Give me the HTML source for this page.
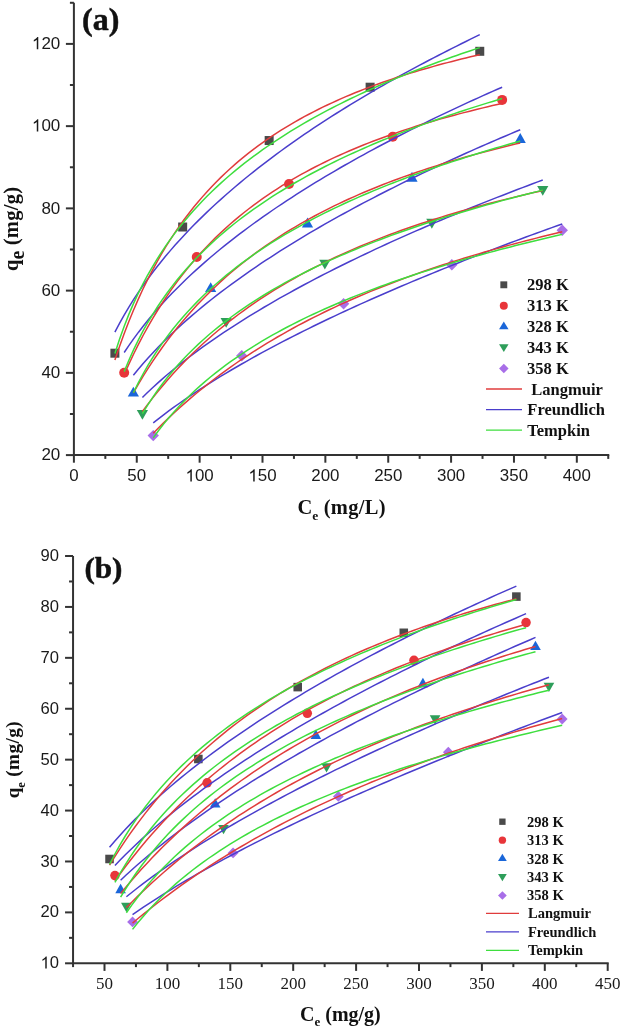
<!DOCTYPE html>
<html><head><meta charset="utf-8"><style>
html,body{margin:0;padding:0;background:#fff;}
body{width:626px;height:1033px;overflow:hidden;font-family:"Liberation Sans",sans-serif;}
svg{display:block;filter:blur(0.3px);}
</style></head><body>
<svg width="626" height="1033" viewBox="0 0 626 1033">
<rect width="626" height="1033" fill="#fff"/>
<line x1="73.90" y1="2.78" x2="73.90" y2="456.10" stroke="#333333" stroke-width="2"/>
<line x1="72.90" y1="455.10" x2="609.25" y2="455.10" stroke="#333333" stroke-width="2"/>
<line x1="73.90" y1="455.10" x2="73.90" y2="462.70" stroke="#333333" stroke-width="2"/>
<line x1="136.77" y1="455.10" x2="136.77" y2="462.70" stroke="#333333" stroke-width="2"/>
<line x1="199.63" y1="455.10" x2="199.63" y2="462.70" stroke="#333333" stroke-width="2"/>
<line x1="262.50" y1="455.10" x2="262.50" y2="462.70" stroke="#333333" stroke-width="2"/>
<line x1="325.36" y1="455.10" x2="325.36" y2="462.70" stroke="#333333" stroke-width="2"/>
<line x1="388.23" y1="455.10" x2="388.23" y2="462.70" stroke="#333333" stroke-width="2"/>
<line x1="451.09" y1="455.10" x2="451.09" y2="462.70" stroke="#333333" stroke-width="2"/>
<line x1="513.96" y1="455.10" x2="513.96" y2="462.70" stroke="#333333" stroke-width="2"/>
<line x1="576.82" y1="455.10" x2="576.82" y2="462.70" stroke="#333333" stroke-width="2"/>
<line x1="105.33" y1="455.10" x2="105.33" y2="458.90" stroke="#333333" stroke-width="2"/>
<line x1="168.20" y1="455.10" x2="168.20" y2="458.90" stroke="#333333" stroke-width="2"/>
<line x1="231.06" y1="455.10" x2="231.06" y2="458.90" stroke="#333333" stroke-width="2"/>
<line x1="293.93" y1="455.10" x2="293.93" y2="458.90" stroke="#333333" stroke-width="2"/>
<line x1="356.79" y1="455.10" x2="356.79" y2="458.90" stroke="#333333" stroke-width="2"/>
<line x1="419.66" y1="455.10" x2="419.66" y2="458.90" stroke="#333333" stroke-width="2"/>
<line x1="482.52" y1="455.10" x2="482.52" y2="458.90" stroke="#333333" stroke-width="2"/>
<line x1="545.39" y1="455.10" x2="545.39" y2="458.90" stroke="#333333" stroke-width="2"/>
<line x1="608.25" y1="455.10" x2="608.25" y2="458.90" stroke="#333333" stroke-width="2"/>
<line x1="65.90" y1="455.10" x2="73.90" y2="455.10" stroke="#333333" stroke-width="2"/>
<line x1="65.90" y1="372.86" x2="73.90" y2="372.86" stroke="#333333" stroke-width="2"/>
<line x1="65.90" y1="290.62" x2="73.90" y2="290.62" stroke="#333333" stroke-width="2"/>
<line x1="65.90" y1="208.38" x2="73.90" y2="208.38" stroke="#333333" stroke-width="2"/>
<line x1="65.90" y1="126.14" x2="73.90" y2="126.14" stroke="#333333" stroke-width="2"/>
<line x1="65.90" y1="43.90" x2="73.90" y2="43.90" stroke="#333333" stroke-width="2"/>
<line x1="69.90" y1="413.98" x2="73.90" y2="413.98" stroke="#333333" stroke-width="2"/>
<line x1="69.90" y1="331.74" x2="73.90" y2="331.74" stroke="#333333" stroke-width="2"/>
<line x1="69.90" y1="249.50" x2="73.90" y2="249.50" stroke="#333333" stroke-width="2"/>
<line x1="69.90" y1="167.26" x2="73.90" y2="167.26" stroke="#333333" stroke-width="2"/>
<line x1="69.90" y1="85.02" x2="73.90" y2="85.02" stroke="#333333" stroke-width="2"/>
<line x1="69.90" y1="2.78" x2="73.90" y2="2.78" stroke="#333333" stroke-width="2"/>
<text x="69.20" y="481.40" font-family="Liberation Sans" font-size="16.9" fill="#1a1a1a">0</text>
<text x="127.37" y="481.40" font-family="Liberation Sans" font-size="16.9" fill="#1a1a1a">50</text>
<path transform="translate(185.53,481.40) scale(0.00825,-0.00825)" d="M763 0H583V1147Q518 1085 412.5 1023Q307 961 223 930V1104Q374 1175 487 1276Q600 1377 647 1472H763Z" fill="#1a1a1a"/><text x="194.93" y="481.40" font-family="Liberation Sans" font-size="16.9" fill="#1a1a1a">00</text>
<path transform="translate(248.40,481.40) scale(0.00825,-0.00825)" d="M763 0H583V1147Q518 1085 412.5 1023Q307 961 223 930V1104Q374 1175 487 1276Q600 1377 647 1472H763Z" fill="#1a1a1a"/><text x="257.80" y="481.40" font-family="Liberation Sans" font-size="16.9" fill="#1a1a1a">50</text>
<text x="311.26" y="481.40" font-family="Liberation Sans" font-size="16.9" fill="#1a1a1a">200</text>
<text x="374.13" y="481.40" font-family="Liberation Sans" font-size="16.9" fill="#1a1a1a">250</text>
<text x="436.99" y="481.40" font-family="Liberation Sans" font-size="16.9" fill="#1a1a1a">300</text>
<text x="499.86" y="481.40" font-family="Liberation Sans" font-size="16.9" fill="#1a1a1a">350</text>
<text x="562.72" y="481.40" font-family="Liberation Sans" font-size="16.9" fill="#1a1a1a">400</text>
<text x="41.39" y="460.40" font-family="Liberation Sans" font-size="17" fill="#1a1a1a">20</text>
<text x="41.39" y="378.16" font-family="Liberation Sans" font-size="17" fill="#1a1a1a">40</text>
<text x="41.39" y="295.92" font-family="Liberation Sans" font-size="17" fill="#1a1a1a">60</text>
<text x="41.39" y="213.68" font-family="Liberation Sans" font-size="17" fill="#1a1a1a">80</text>
<path transform="translate(31.94,131.44) scale(0.00830,-0.00830)" d="M763 0H583V1147Q518 1085 412.5 1023Q307 961 223 930V1104Q374 1175 487 1276Q600 1377 647 1472H763Z" fill="#1a1a1a"/><text x="41.39" y="131.44" font-family="Liberation Sans" font-size="17" fill="#1a1a1a">00</text>
<path transform="translate(31.94,49.20) scale(0.00830,-0.00830)" d="M763 0H583V1147Q518 1085 412.5 1023Q307 961 223 930V1104Q374 1175 487 1276Q600 1377 647 1472H763Z" fill="#1a1a1a"/><text x="41.39" y="49.20" font-family="Liberation Sans" font-size="17" fill="#1a1a1a">20</text>
<rect x="110.39" y="348.70" width="9.00" height="9.00" fill="#4a4a4a"/>
<rect x="178.16" y="222.51" width="9.00" height="9.00" fill="#4a4a4a"/>
<rect x="264.66" y="136.03" width="9.00" height="9.00" fill="#4a4a4a"/>
<rect x="365.62" y="82.70" width="9.00" height="9.00" fill="#4a4a4a"/>
<rect x="475.26" y="46.80" width="9.00" height="9.00" fill="#4a4a4a"/>
<circle cx="124.19" cy="372.70" r="5.00" fill="#e8353a"/>
<circle cx="196.74" cy="256.98" r="5.00" fill="#e8353a"/>
<circle cx="289.02" cy="184.00" r="5.00" fill="#e8353a"/>
<circle cx="392.75" cy="136.71" r="5.00" fill="#e8353a"/>
<circle cx="502.14" cy="99.91" r="5.00" fill="#e8353a"/>
<polygon points="133.37,386.80 138.97,396.60 127.77,396.60" fill="#1a66d9"/>
<polygon points="210.69,282.27 216.29,292.07 205.09,292.07" fill="#1a66d9"/>
<polygon points="307.51,217.59 313.11,227.39 301.91,227.39" fill="#1a66d9"/>
<polygon points="411.99,171.86 417.59,181.66 406.39,181.66" fill="#1a66d9"/>
<polygon points="520.24,133.09 525.84,142.89 514.64,142.89" fill="#1a66d9"/>
<polygon points="136.82,409.93 148.02,409.93 142.42,419.73" fill="#2e9e5a"/>
<polygon points="220.56,317.95 231.76,317.95 226.16,327.75" fill="#2e9e5a"/>
<polygon points="319.26,259.64 330.46,259.64 324.86,269.44" fill="#2e9e5a"/>
<polygon points="426.25,218.85 437.45,218.85 431.85,228.65" fill="#2e9e5a"/>
<polygon points="537.15,186.03 548.35,186.03 542.75,195.83" fill="#2e9e5a"/>
<polygon points="153.24,429.91 158.94,435.61 153.24,441.31 147.54,435.61" fill="#a86ee8"/>
<polygon points="241.75,350.01 247.45,355.71 241.75,361.41 236.05,355.71" fill="#a86ee8"/>
<polygon points="343.59,298.12 349.29,303.82 343.59,309.52 337.89,303.82" fill="#a86ee8"/>
<polygon points="451.84,259.01 457.54,264.71 451.84,270.41 446.14,264.71" fill="#a86ee8"/>
<polygon points="562.24,224.51 567.94,230.21 562.24,235.91 556.54,230.21" fill="#a86ee8"/>
<path d="M114.89,332.05 L119.51,323.31 L124.13,315.09 L128.74,307.32 L133.36,299.95 L137.98,292.91 L142.60,286.17 L147.22,279.71 L151.84,273.49 L156.46,267.49 L161.07,261.69 L165.69,256.07 L170.31,250.63 L174.93,245.34 L179.55,240.20 L184.17,235.19 L188.79,230.31 L193.40,225.55 L198.02,220.89 L202.64,216.35 L207.26,211.90 L211.88,207.54 L216.50,203.27 L221.12,199.09 L225.73,194.98 L230.35,190.95 L234.97,186.99 L239.59,183.10 L244.21,179.28 L248.83,175.52 L253.45,171.82 L258.06,168.17 L262.68,164.58 L267.30,161.05 L271.92,157.56 L276.54,154.13 L281.16,150.74 L285.78,147.40 L290.39,144.10 L295.01,140.84 L299.63,137.63 L304.25,134.45 L308.87,131.32 L313.49,128.22 L318.11,125.16 L322.72,122.13 L327.34,119.14 L331.96,116.18 L336.58,113.25 L341.20,110.35 L345.82,107.49 L350.44,104.65 L355.05,101.84 L359.67,99.06 L364.29,96.31 L368.91,93.58 L373.53,90.88 L378.15,88.21 L382.77,85.55 L387.38,82.93 L392.00,80.32 L396.62,77.74 L401.24,75.19 L405.86,72.65 L410.48,70.14 L415.10,67.64 L419.71,65.17 L424.33,62.72 L428.95,60.28 L433.57,57.87 L438.19,55.47 L442.81,53.10 L447.43,50.74 L452.04,48.40 L456.66,46.07 L461.28,43.77 L465.90,41.48 L470.52,39.20 L475.14,36.95 L479.76,34.70" fill="none" stroke="#4a3ecc" stroke-width="1.5"/>
<path d="M124.19,352.50 L128.98,345.39 L133.76,338.63 L138.54,332.17 L143.33,326.00 L148.11,320.06 L152.90,314.35 L157.68,308.83 L162.46,303.50 L167.25,298.33 L172.03,293.31 L176.82,288.44 L181.60,283.69 L186.39,279.07 L191.17,274.56 L195.95,270.16 L200.74,265.86 L205.52,261.65 L210.31,257.53 L215.09,253.49 L219.87,249.53 L224.66,245.65 L229.44,241.84 L234.23,238.09 L239.01,234.41 L243.79,230.80 L248.58,227.24 L253.36,223.74 L258.15,220.29 L262.93,216.89 L267.72,213.55 L272.50,210.25 L277.28,207.00 L282.07,203.79 L286.85,200.63 L291.64,197.51 L296.42,194.42 L301.20,191.38 L305.99,188.37 L310.77,185.40 L315.56,182.46 L320.34,179.56 L325.12,176.69 L329.91,173.85 L334.69,171.04 L339.48,168.27 L344.26,165.52 L349.04,162.80 L353.83,160.10 L358.61,157.44 L363.40,154.80 L368.18,152.18 L372.97,149.59 L377.75,147.03 L382.53,144.49 L387.32,141.97 L392.10,139.47 L396.89,137.00 L401.67,134.54 L406.45,132.11 L411.24,129.70 L416.02,127.30 L420.81,124.93 L425.59,122.58 L430.37,120.24 L435.16,117.93 L439.94,115.63 L444.73,113.34 L449.51,111.08 L454.30,108.83 L459.08,106.60 L463.86,104.39 L468.65,102.19 L473.43,100.00 L478.22,97.83 L483.00,95.68 L487.78,93.54 L492.57,91.42 L497.35,89.31 L502.14,87.21" fill="none" stroke="#4a3ecc" stroke-width="1.5"/>
<path d="M133.37,375.29 L138.27,369.31 L143.16,363.58 L148.06,358.06 L152.96,352.74 L157.86,347.59 L162.75,342.60 L167.65,337.76 L172.55,333.06 L177.44,328.48 L182.34,324.02 L187.24,319.66 L192.14,315.41 L197.03,311.24 L201.93,307.17 L206.83,303.19 L211.72,299.28 L216.62,295.44 L221.52,291.68 L226.42,287.98 L231.31,284.35 L236.21,280.78 L241.11,277.27 L246.00,273.81 L250.90,270.40 L255.80,267.05 L260.69,263.74 L265.59,260.48 L270.49,257.27 L275.39,254.10 L280.28,250.97 L285.18,247.88 L290.08,244.83 L294.97,241.81 L299.87,238.83 L304.77,235.89 L309.67,232.98 L314.56,230.10 L319.46,227.26 L324.36,224.44 L329.25,221.66 L334.15,218.90 L339.05,216.18 L343.95,213.47 L348.84,210.80 L353.74,208.15 L358.64,205.53 L363.53,202.93 L368.43,200.35 L373.33,197.80 L378.23,195.27 L383.12,192.76 L388.02,190.27 L392.92,187.81 L397.81,185.36 L402.71,182.94 L407.61,180.53 L412.51,178.15 L417.40,175.78 L422.30,173.43 L427.20,171.10 L432.09,168.78 L436.99,166.49 L441.89,164.20 L446.78,161.94 L451.68,159.69 L456.58,157.46 L461.48,155.24 L466.37,153.04 L471.27,150.85 L476.17,148.68 L481.06,146.52 L485.96,144.38 L490.86,142.25 L495.76,140.13 L500.65,138.03 L505.55,135.94 L510.45,133.86 L515.34,131.80 L520.24,129.74" fill="none" stroke="#4a3ecc" stroke-width="1.5"/>
<path d="M142.42,397.49 L147.49,392.53 L152.56,387.75 L157.63,383.13 L162.69,378.64 L167.76,374.29 L172.83,370.05 L177.89,365.93 L182.96,361.90 L188.03,357.97 L193.10,354.13 L198.16,350.37 L203.23,346.69 L208.30,343.08 L213.37,339.54 L218.43,336.07 L223.50,332.66 L228.57,329.30 L233.64,326.01 L238.70,322.76 L243.77,319.57 L248.84,316.43 L253.91,313.33 L258.97,310.27 L264.04,307.26 L269.11,304.29 L274.18,301.36 L279.24,298.47 L284.31,295.61 L289.38,292.79 L294.44,290.00 L299.51,287.24 L304.58,284.52 L309.65,281.82 L314.71,279.16 L319.78,276.52 L324.85,273.91 L329.92,271.33 L334.98,268.78 L340.05,266.25 L345.12,263.74 L350.19,261.26 L355.25,258.80 L360.32,256.37 L365.39,253.95 L370.46,251.56 L375.52,249.19 L380.59,246.84 L385.66,244.51 L390.73,242.19 L395.79,239.90 L400.86,237.62 L405.93,235.37 L410.99,233.13 L416.06,230.91 L421.13,228.70 L426.20,226.51 L431.26,224.34 L436.33,222.18 L441.40,220.04 L446.47,217.91 L451.53,215.80 L456.60,213.70 L461.67,211.62 L466.74,209.55 L471.80,207.50 L476.87,205.45 L481.94,203.42 L487.01,201.41 L492.07,199.40 L497.14,197.41 L502.21,195.43 L507.28,193.47 L512.34,191.51 L517.41,189.57 L522.48,187.64 L527.54,185.71 L532.61,183.80 L537.68,181.90 L542.75,180.01" fill="none" stroke="#4a3ecc" stroke-width="1.5"/>
<path d="M153.24,422.89 L158.41,418.81 L163.59,414.83 L168.77,410.96 L173.94,407.19 L179.12,403.49 L184.30,399.88 L189.48,396.35 L194.65,392.88 L199.83,389.48 L205.01,386.14 L210.18,382.86 L215.36,379.63 L220.54,376.46 L225.72,373.33 L230.89,370.26 L236.07,367.23 L241.25,364.24 L246.43,361.29 L251.60,358.38 L256.78,355.51 L261.96,352.67 L267.13,349.87 L272.31,347.10 L277.49,344.37 L282.67,341.66 L287.84,338.99 L293.02,336.34 L298.20,333.72 L303.37,331.13 L308.55,328.56 L313.73,326.02 L318.91,323.51 L324.08,321.01 L329.26,318.54 L334.44,316.09 L339.62,313.67 L344.79,311.26 L349.97,308.88 L355.15,306.51 L360.32,304.17 L365.50,301.84 L370.68,299.53 L375.86,297.24 L381.03,294.97 L386.21,292.71 L391.39,290.47 L396.56,288.25 L401.74,286.04 L406.92,283.85 L412.10,281.67 L417.27,279.51 L422.45,277.36 L427.63,275.23 L432.81,273.11 L437.98,271.00 L443.16,268.91 L448.34,266.83 L453.51,264.76 L458.69,262.71 L463.87,260.67 L469.05,258.64 L474.22,256.62 L479.40,254.61 L484.58,252.62 L489.75,250.63 L494.93,248.66 L500.11,246.70 L505.29,244.75 L510.46,242.80 L515.64,240.87 L520.82,238.95 L525.99,237.04 L531.17,235.14 L536.35,233.25 L541.53,231.37 L546.70,229.49 L551.88,227.63 L557.06,225.77 L562.24,223.93" fill="none" stroke="#4a3ecc" stroke-width="1.5"/>
<path d="M114.89,360.08 L119.51,346.48 L124.13,333.73 L128.74,321.75 L133.36,310.47 L137.98,299.84 L142.60,289.80 L147.22,280.31 L151.84,271.31 L156.46,262.78 L161.07,254.67 L165.69,246.96 L170.31,239.62 L174.93,232.62 L179.55,225.94 L184.17,219.55 L188.79,213.44 L193.40,207.59 L198.02,201.99 L202.64,196.62 L207.26,191.46 L211.88,186.50 L216.50,181.73 L221.12,177.14 L225.73,172.73 L230.35,168.47 L234.97,164.37 L239.59,160.41 L244.21,156.58 L248.83,152.89 L253.45,149.32 L258.06,145.87 L262.68,142.53 L267.30,139.29 L271.92,136.16 L276.54,133.12 L281.16,130.17 L285.78,127.31 L290.39,124.54 L295.01,121.85 L299.63,119.23 L304.25,116.69 L308.87,114.22 L313.49,111.81 L318.11,109.47 L322.72,107.20 L327.34,104.98 L331.96,102.82 L336.58,100.72 L341.20,98.67 L345.82,96.67 L350.44,94.72 L355.05,92.81 L359.67,90.96 L364.29,89.15 L368.91,87.38 L373.53,85.65 L378.15,83.96 L382.77,82.31 L387.38,80.70 L392.00,79.12 L396.62,77.58 L401.24,76.07 L405.86,74.59 L410.48,73.14 L415.10,71.73 L419.71,70.34 L424.33,68.99 L428.95,67.66 L433.57,66.36 L438.19,65.08 L442.81,63.83 L447.43,62.60 L452.04,61.40 L456.66,60.22 L461.28,59.06 L465.90,57.93 L470.52,56.82 L475.14,55.72 L479.76,54.65" fill="none" stroke="#e03c3c" stroke-width="1.5"/>
<path d="M124.19,374.49 L128.98,363.83 L133.76,353.72 L138.54,344.13 L143.33,335.02 L148.11,326.36 L152.90,318.11 L157.68,310.24 L162.46,302.73 L167.25,295.55 L172.03,288.69 L176.82,282.12 L181.60,275.82 L186.39,269.78 L191.17,263.98 L195.95,258.41 L200.74,253.05 L205.52,247.90 L210.31,242.93 L215.09,238.15 L219.87,233.54 L224.66,229.09 L229.44,224.79 L234.23,220.64 L239.01,216.62 L243.79,212.74 L248.58,208.99 L253.36,205.35 L258.15,201.83 L262.93,198.41 L267.72,195.10 L272.50,191.89 L277.28,188.77 L282.07,185.74 L286.85,182.80 L291.64,179.94 L296.42,177.17 L301.20,174.46 L305.99,171.83 L310.77,169.27 L315.56,166.78 L320.34,164.36 L325.12,161.99 L329.91,159.69 L334.69,157.44 L339.48,155.25 L344.26,153.11 L349.04,151.02 L353.83,148.98 L358.61,146.99 L363.40,145.05 L368.18,143.15 L372.97,141.30 L377.75,139.48 L382.53,137.71 L387.32,135.98 L392.10,134.28 L396.89,132.62 L401.67,131.00 L406.45,129.41 L411.24,127.85 L416.02,126.32 L420.81,124.83 L425.59,123.37 L430.37,121.93 L435.16,120.52 L439.94,119.15 L444.73,117.79 L449.51,116.47 L454.30,115.17 L459.08,113.89 L463.86,112.64 L468.65,111.41 L473.43,110.20 L478.22,109.02 L483.00,107.86 L487.78,106.71 L492.57,105.59 L497.35,104.49 L502.14,103.41" fill="none" stroke="#e03c3c" stroke-width="1.5"/>
<path d="M133.37,392.87 L138.27,384.36 L143.16,376.21 L148.06,368.40 L152.96,360.91 L157.86,353.71 L162.75,346.80 L167.65,340.15 L172.55,333.76 L177.44,327.59 L182.34,321.66 L187.24,315.93 L192.14,310.40 L197.03,305.07 L201.93,299.91 L206.83,294.93 L211.72,290.11 L216.62,285.44 L221.52,280.92 L226.42,276.55 L231.31,272.30 L236.21,268.19 L241.11,264.20 L246.00,260.32 L250.90,256.56 L255.80,252.90 L260.69,249.35 L265.59,245.89 L270.49,242.53 L275.39,239.26 L280.28,236.08 L285.18,232.98 L290.08,229.96 L294.97,227.02 L299.87,224.16 L304.77,221.36 L309.67,218.63 L314.56,215.97 L319.46,213.38 L324.36,210.84 L329.25,208.37 L334.15,205.95 L339.05,203.59 L343.95,201.28 L348.84,199.02 L353.74,196.82 L358.64,194.66 L363.53,192.55 L368.43,190.48 L373.33,188.46 L378.23,186.48 L383.12,184.54 L388.02,182.64 L392.92,180.78 L397.81,178.96 L402.71,177.17 L407.61,175.42 L412.51,173.70 L417.40,172.02 L422.30,170.37 L427.20,168.75 L432.09,167.16 L436.99,165.60 L441.89,164.07 L446.78,162.57 L451.68,161.09 L456.58,159.65 L461.48,158.22 L466.37,156.82 L471.27,155.45 L476.17,154.10 L481.06,152.78 L485.96,151.47 L490.86,150.19 L495.76,148.93 L500.65,147.69 L505.55,146.47 L510.45,145.28 L515.34,144.10 L520.24,142.94" fill="none" stroke="#e03c3c" stroke-width="1.5"/>
<path d="M142.42,411.51 L147.49,404.70 L152.56,398.13 L157.63,391.79 L162.69,385.68 L167.76,379.77 L172.83,374.07 L177.89,368.55 L182.96,363.21 L188.03,358.05 L193.10,353.05 L198.16,348.20 L203.23,343.50 L208.30,338.95 L213.37,334.53 L218.43,330.23 L223.50,326.07 L228.57,322.02 L233.64,318.08 L238.70,314.26 L243.77,310.54 L248.84,306.91 L253.91,303.39 L258.97,299.96 L264.04,296.61 L269.11,293.35 L274.18,290.18 L279.24,287.08 L284.31,284.06 L289.38,281.11 L294.44,278.24 L299.51,275.43 L304.58,272.68 L309.65,270.00 L314.71,267.39 L319.78,264.83 L324.85,262.33 L329.92,259.88 L334.98,257.49 L340.05,255.15 L345.12,252.86 L350.19,250.62 L355.25,248.42 L360.32,246.27 L365.39,244.17 L370.46,242.11 L375.52,240.09 L380.59,238.11 L385.66,236.17 L390.73,234.26 L395.79,232.40 L400.86,230.57 L405.93,228.77 L410.99,227.01 L416.06,225.28 L421.13,223.58 L426.20,221.92 L431.26,220.28 L436.33,218.67 L441.40,217.10 L446.47,215.55 L451.53,214.02 L456.60,212.53 L461.67,211.06 L466.74,209.61 L471.80,208.19 L476.87,206.79 L481.94,205.42 L487.01,204.07 L492.07,202.74 L497.14,201.43 L502.21,200.14 L507.28,198.88 L512.34,197.63 L517.41,196.41 L522.48,195.20 L527.54,194.01 L532.61,192.84 L537.68,191.69 L542.75,190.55" fill="none" stroke="#e03c3c" stroke-width="1.5"/>
<path d="M153.24,433.26 L158.41,427.98 L163.59,422.85 L168.77,417.86 L173.94,413.00 L179.12,408.26 L184.30,403.65 L189.48,399.15 L194.65,394.76 L199.83,390.48 L205.01,386.31 L210.18,382.24 L215.36,378.26 L220.54,374.38 L225.72,370.59 L230.89,366.88 L236.07,363.26 L241.25,359.72 L246.43,356.26 L251.60,352.88 L256.78,349.57 L261.96,346.33 L267.13,343.16 L272.31,340.05 L277.49,337.01 L282.67,334.04 L287.84,331.12 L293.02,328.26 L298.20,325.46 L303.37,322.72 L308.55,320.03 L313.73,317.39 L318.91,314.80 L324.08,312.26 L329.26,309.77 L334.44,307.33 L339.62,304.93 L344.79,302.58 L349.97,300.26 L355.15,297.99 L360.32,295.76 L365.50,293.57 L370.68,291.42 L375.86,289.31 L381.03,287.23 L386.21,285.19 L391.39,283.18 L396.56,281.21 L401.74,279.26 L406.92,277.35 L412.10,275.48 L417.27,273.63 L422.45,271.81 L427.63,270.02 L432.81,268.26 L437.98,266.53 L443.16,264.83 L448.34,263.15 L453.51,261.49 L458.69,259.87 L463.87,258.26 L469.05,256.68 L474.22,255.13 L479.40,253.60 L484.58,252.09 L489.75,250.60 L494.93,249.13 L500.11,247.69 L505.29,246.26 L510.46,244.86 L515.64,243.47 L520.82,242.11 L525.99,240.76 L531.17,239.43 L536.35,238.13 L541.53,236.83 L546.70,235.56 L551.88,234.30 L557.06,233.06 L562.24,231.84" fill="none" stroke="#e03c3c" stroke-width="1.5"/>
<path d="M114.89,353.50 L119.51,339.26 L124.13,326.39 L128.74,314.65 L133.36,303.86 L137.98,293.88 L142.60,284.59 L147.22,275.91 L151.84,267.76 L156.46,260.08 L161.07,252.82 L165.69,245.93 L170.31,239.38 L174.93,233.14 L179.55,227.17 L184.17,221.46 L188.79,215.99 L193.40,210.73 L198.02,205.67 L202.64,200.80 L207.26,196.09 L211.88,191.55 L216.50,187.16 L221.12,182.91 L225.73,178.78 L230.35,174.79 L234.97,170.90 L239.59,167.13 L244.21,163.46 L248.83,159.89 L253.45,156.42 L258.06,153.03 L262.68,149.72 L267.30,146.50 L271.92,143.35 L276.54,140.27 L281.16,137.27 L285.78,134.33 L290.39,131.45 L295.01,128.63 L299.63,125.87 L304.25,123.17 L308.87,120.52 L313.49,117.93 L318.11,115.38 L322.72,112.88 L327.34,110.42 L331.96,108.01 L336.58,105.65 L341.20,103.32 L345.82,101.04 L350.44,98.79 L355.05,96.58 L359.67,94.41 L364.29,92.27 L368.91,90.16 L373.53,88.09 L378.15,86.05 L382.77,84.04 L387.38,82.06 L392.00,80.11 L396.62,78.18 L401.24,76.29 L405.86,74.42 L410.48,72.57 L415.10,70.75 L419.71,68.96 L424.33,67.19 L428.95,65.44 L433.57,63.72 L438.19,62.02 L442.81,60.34 L447.43,58.68 L452.04,57.04 L456.66,55.42 L461.28,53.82 L465.90,52.23 L470.52,50.67 L475.14,49.13 L479.76,47.60" fill="none" stroke="#3ede3e" stroke-width="1.5"/>
<path d="M124.19,371.59 L128.98,360.01 L133.76,349.39 L138.54,339.59 L143.33,330.48 L148.11,321.99 L152.90,314.02 L157.68,306.53 L162.46,299.45 L167.25,292.74 L172.03,286.37 L176.82,280.30 L181.60,274.51 L186.39,268.96 L191.17,263.65 L195.95,258.56 L200.74,253.65 L205.52,248.93 L210.31,244.38 L215.09,239.99 L219.87,235.74 L224.66,231.63 L229.44,227.65 L234.23,223.78 L239.01,220.03 L243.79,216.39 L248.58,212.85 L253.36,209.41 L258.15,206.05 L262.93,202.78 L267.72,199.60 L272.50,196.49 L277.28,193.45 L282.07,190.49 L286.85,187.59 L291.64,184.76 L296.42,181.99 L301.20,179.28 L305.99,176.62 L310.77,174.02 L315.56,171.47 L320.34,168.97 L325.12,166.52 L329.91,164.12 L334.69,161.76 L339.48,159.44 L344.26,157.16 L349.04,154.93 L353.83,152.73 L358.61,150.57 L363.40,148.44 L368.18,146.35 L372.97,144.30 L377.75,142.27 L382.53,140.28 L387.32,138.32 L392.10,136.39 L396.89,134.49 L401.67,132.61 L406.45,130.77 L411.24,128.94 L416.02,127.15 L420.81,125.38 L425.59,123.63 L430.37,121.91 L435.16,120.21 L439.94,118.53 L444.73,116.88 L449.51,115.24 L454.30,113.63 L459.08,112.04 L463.86,110.46 L468.65,108.91 L473.43,107.37 L478.22,105.85 L483.00,104.35 L487.78,102.87 L492.57,101.41 L497.35,99.96 L502.14,98.53" fill="none" stroke="#3ede3e" stroke-width="1.5"/>
<path d="M133.37,392.78 L138.27,382.90 L143.16,373.74 L148.06,365.21 L152.96,357.22 L157.86,349.71 L162.75,342.63 L167.65,335.93 L172.55,329.57 L177.44,323.52 L182.34,317.75 L187.24,312.23 L192.14,306.95 L197.03,301.88 L201.93,297.01 L206.83,292.32 L211.72,287.80 L216.62,283.44 L221.52,279.23 L226.42,275.15 L231.31,271.21 L236.21,267.38 L241.11,263.67 L246.00,260.06 L250.90,256.56 L255.80,253.15 L260.69,249.83 L265.59,246.60 L270.49,243.45 L275.39,240.38 L280.28,237.38 L285.18,234.45 L290.08,231.59 L294.97,228.79 L299.87,226.05 L304.77,223.37 L309.67,220.75 L314.56,218.19 L319.46,215.67 L324.36,213.20 L329.25,210.79 L334.15,208.41 L339.05,206.08 L343.95,203.80 L348.84,201.55 L353.74,199.35 L358.64,197.18 L363.53,195.05 L368.43,192.96 L373.33,190.90 L378.23,188.87 L383.12,186.88 L388.02,184.92 L392.92,182.98 L397.81,181.08 L402.71,179.21 L407.61,177.36 L412.51,175.54 L417.40,173.75 L422.30,171.98 L427.20,170.24 L432.09,168.52 L436.99,166.82 L441.89,165.15 L446.78,163.50 L451.68,161.87 L456.58,160.26 L461.48,158.67 L466.37,157.10 L471.27,155.55 L476.17,154.02 L481.06,152.51 L485.96,151.02 L490.86,149.54 L495.76,148.09 L500.65,146.65 L505.55,145.22 L510.45,143.81 L515.34,142.42 L520.24,141.04" fill="none" stroke="#3ede3e" stroke-width="1.5"/>
<path d="M142.42,413.58 L147.49,405.29 L152.56,397.55 L157.63,390.30 L162.69,383.47 L167.76,377.02 L172.83,370.91 L177.89,365.10 L182.96,359.58 L188.03,354.30 L193.10,349.25 L198.16,344.41 L203.23,339.77 L208.30,335.30 L213.37,331.00 L218.43,326.86 L223.50,322.85 L228.57,318.98 L233.64,315.24 L238.70,311.61 L243.77,308.09 L248.84,304.67 L253.91,301.35 L258.97,298.13 L264.04,294.99 L269.11,291.93 L274.18,288.96 L279.24,286.05 L284.31,283.22 L289.38,280.45 L294.44,277.75 L299.51,275.11 L304.58,272.53 L309.65,270.01 L314.71,267.54 L319.78,265.12 L324.85,262.75 L329.92,260.42 L334.98,258.15 L340.05,255.91 L345.12,253.72 L350.19,251.57 L355.25,249.46 L360.32,247.39 L365.39,245.35 L370.46,243.34 L375.52,241.38 L380.59,239.44 L385.66,237.54 L390.73,235.66 L395.79,233.82 L400.86,232.00 L405.93,230.22 L410.99,228.46 L416.06,226.72 L421.13,225.01 L426.20,223.33 L431.26,221.67 L436.33,220.04 L441.40,218.42 L446.47,216.83 L451.53,215.26 L456.60,213.71 L461.67,212.18 L466.74,210.68 L471.80,209.19 L476.87,207.72 L481.94,206.26 L487.01,204.83 L492.07,203.41 L497.14,202.01 L502.21,200.63 L507.28,199.26 L512.34,197.91 L517.41,196.58 L522.48,195.26 L527.54,193.95 L532.61,192.66 L537.68,191.39 L542.75,190.12" fill="none" stroke="#3ede3e" stroke-width="1.5"/>
<path d="M153.24,437.85 L158.41,430.77 L163.59,424.12 L168.77,417.83 L173.94,411.88 L179.12,406.23 L184.30,400.86 L189.48,395.72 L194.65,390.82 L199.83,386.12 L205.01,381.61 L210.18,377.27 L215.36,373.10 L220.54,369.07 L225.72,365.19 L230.89,361.43 L236.07,357.80 L241.25,354.28 L246.43,350.87 L251.60,347.56 L256.78,344.34 L261.96,341.22 L267.13,338.17 L272.31,335.21 L277.49,332.33 L282.67,329.52 L287.84,326.78 L293.02,324.10 L298.20,321.48 L303.37,318.93 L308.55,316.43 L313.73,313.99 L318.91,311.60 L324.08,309.25 L329.26,306.96 L334.44,304.71 L339.62,302.51 L344.79,300.35 L349.97,298.23 L355.15,296.15 L360.32,294.11 L365.50,292.10 L370.68,290.13 L375.86,288.19 L381.03,286.29 L386.21,284.42 L391.39,282.58 L396.56,280.77 L401.74,278.98 L406.92,277.23 L412.10,275.50 L417.27,273.80 L422.45,272.13 L427.63,270.47 L432.81,268.85 L437.98,267.24 L443.16,265.66 L448.34,264.10 L453.51,262.57 L458.69,261.05 L463.87,259.55 L469.05,258.08 L474.22,256.62 L479.40,255.18 L484.58,253.76 L489.75,252.36 L494.93,250.97 L500.11,249.60 L505.29,248.25 L510.46,246.92 L515.64,245.60 L520.82,244.29 L525.99,243.00 L531.17,241.73 L536.35,240.47 L541.53,239.22 L546.70,237.99 L551.88,236.77 L557.06,235.56 L562.24,234.37" fill="none" stroke="#3ede3e" stroke-width="1.5"/>
<rect x="500.35" y="281.35" width="6.90" height="6.90" fill="#4a4a4a"/>
<text x="527" y="290.41" font-family="Liberation Serif" font-weight="bold" font-size="16.5" fill="#111">298 K</text>
<circle cx="503.80" cy="305.70" r="4.00" fill="#e8353a"/>
<text x="527" y="311.31" font-family="Liberation Serif" font-weight="bold" font-size="16.5" fill="#111">313 K</text>
<polygon points="503.80,321.40 508.55,329.20 499.05,329.20" fill="#1a66d9"/>
<text x="527" y="332.21" font-family="Liberation Serif" font-weight="bold" font-size="16.5" fill="#111">328 K</text>
<polygon points="499.05,344.30 508.55,344.30 503.80,352.10" fill="#2e9e5a"/>
<text x="527" y="353.11" font-family="Liberation Serif" font-weight="bold" font-size="16.5" fill="#111">343 K</text>
<polygon points="503.80,363.65 508.55,368.40 503.80,373.15 499.05,368.40" fill="#a86ee8"/>
<text x="527" y="374.01" font-family="Liberation Serif" font-weight="bold" font-size="16.5" fill="#111">358 K</text>
<line x1="486" y1="389.00" x2="522" y2="389.00" stroke="#e03c3c" stroke-width="1.3"/>
<text x="531.3" y="394.61" font-family="Liberation Serif" font-weight="bold" font-size="16.5" fill="#111">Langmuir</text>
<line x1="486" y1="409.60" x2="522" y2="409.60" stroke="#4a3ecc" stroke-width="1.3"/>
<text x="527.3" y="415.21" font-family="Liberation Serif" font-weight="bold" font-size="16.5" fill="#111">Freundlich</text>
<line x1="486" y1="430.20" x2="522" y2="430.20" stroke="#3ede3e" stroke-width="1.3"/>
<text x="527.3" y="435.81" font-family="Liberation Serif" font-weight="bold" font-size="16.5" fill="#111">Tempkin</text>
<text x="82" y="30.1" font-family="Liberation Serif" font-weight="bold" font-size="32" fill="#111" stroke="#111" stroke-width="0.5">(a)</text>
<text x="297.5" y="514.3" font-family="Liberation Serif" font-weight="bold" font-size="20.5" fill="#111">C<tspan font-size="13.5" dy="5.5">e</tspan><tspan dy="-5.5" letter-spacing="0.3"> (mg/L)</tspan></text>
<text transform="translate(17.7,271) rotate(-90)" font-family="Liberation Serif" font-weight="bold" font-size="20.5" fill="#111">q<tspan font-size="20" dy="5.8">e</tspan><tspan dy="-5.8" letter-spacing="0.3"> (mg/g)</tspan></text>
<line x1="73.05" y1="556.02" x2="73.05" y2="964.30" stroke="#333333" stroke-width="2"/>
<line x1="72.05" y1="963.30" x2="608.70" y2="963.30" stroke="#333333" stroke-width="2"/>
<line x1="104.50" y1="963.30" x2="104.50" y2="970.90" stroke="#333333" stroke-width="2"/>
<line x1="167.40" y1="963.30" x2="167.40" y2="970.90" stroke="#333333" stroke-width="2"/>
<line x1="230.30" y1="963.30" x2="230.30" y2="970.90" stroke="#333333" stroke-width="2"/>
<line x1="293.20" y1="963.30" x2="293.20" y2="970.90" stroke="#333333" stroke-width="2"/>
<line x1="356.10" y1="963.30" x2="356.10" y2="970.90" stroke="#333333" stroke-width="2"/>
<line x1="419.00" y1="963.30" x2="419.00" y2="970.90" stroke="#333333" stroke-width="2"/>
<line x1="481.90" y1="963.30" x2="481.90" y2="970.90" stroke="#333333" stroke-width="2"/>
<line x1="544.80" y1="963.30" x2="544.80" y2="970.90" stroke="#333333" stroke-width="2"/>
<line x1="607.70" y1="963.30" x2="607.70" y2="970.90" stroke="#333333" stroke-width="2"/>
<line x1="73.05" y1="963.30" x2="73.05" y2="967.10" stroke="#333333" stroke-width="2"/>
<line x1="135.95" y1="963.30" x2="135.95" y2="967.10" stroke="#333333" stroke-width="2"/>
<line x1="198.85" y1="963.30" x2="198.85" y2="967.10" stroke="#333333" stroke-width="2"/>
<line x1="261.75" y1="963.30" x2="261.75" y2="967.10" stroke="#333333" stroke-width="2"/>
<line x1="324.65" y1="963.30" x2="324.65" y2="967.10" stroke="#333333" stroke-width="2"/>
<line x1="387.55" y1="963.30" x2="387.55" y2="967.10" stroke="#333333" stroke-width="2"/>
<line x1="450.45" y1="963.30" x2="450.45" y2="967.10" stroke="#333333" stroke-width="2"/>
<line x1="513.35" y1="963.30" x2="513.35" y2="967.10" stroke="#333333" stroke-width="2"/>
<line x1="576.25" y1="963.30" x2="576.25" y2="967.10" stroke="#333333" stroke-width="2"/>
<line x1="65.05" y1="963.30" x2="73.05" y2="963.30" stroke="#333333" stroke-width="2"/>
<line x1="65.05" y1="912.39" x2="73.05" y2="912.39" stroke="#333333" stroke-width="2"/>
<line x1="65.05" y1="861.48" x2="73.05" y2="861.48" stroke="#333333" stroke-width="2"/>
<line x1="65.05" y1="810.57" x2="73.05" y2="810.57" stroke="#333333" stroke-width="2"/>
<line x1="65.05" y1="759.66" x2="73.05" y2="759.66" stroke="#333333" stroke-width="2"/>
<line x1="65.05" y1="708.75" x2="73.05" y2="708.75" stroke="#333333" stroke-width="2"/>
<line x1="65.05" y1="657.84" x2="73.05" y2="657.84" stroke="#333333" stroke-width="2"/>
<line x1="65.05" y1="606.93" x2="73.05" y2="606.93" stroke="#333333" stroke-width="2"/>
<line x1="65.05" y1="556.02" x2="73.05" y2="556.02" stroke="#333333" stroke-width="2"/>
<line x1="69.05" y1="937.84" x2="73.05" y2="937.84" stroke="#333333" stroke-width="2"/>
<line x1="69.05" y1="886.93" x2="73.05" y2="886.93" stroke="#333333" stroke-width="2"/>
<line x1="69.05" y1="836.02" x2="73.05" y2="836.02" stroke="#333333" stroke-width="2"/>
<line x1="69.05" y1="785.12" x2="73.05" y2="785.12" stroke="#333333" stroke-width="2"/>
<line x1="69.05" y1="734.20" x2="73.05" y2="734.20" stroke="#333333" stroke-width="2"/>
<line x1="69.05" y1="683.29" x2="73.05" y2="683.29" stroke="#333333" stroke-width="2"/>
<line x1="69.05" y1="632.38" x2="73.05" y2="632.38" stroke="#333333" stroke-width="2"/>
<line x1="69.05" y1="581.47" x2="73.05" y2="581.47" stroke="#333333" stroke-width="2"/>
<text x="104.50" y="989.30" text-anchor="middle" font-family="Liberation Serif" font-size="17" fill="#1a1a1a">50</text>
<text x="167.40" y="989.30" text-anchor="middle" font-family="Liberation Serif" font-size="17" fill="#1a1a1a">100</text>
<text x="230.30" y="989.30" text-anchor="middle" font-family="Liberation Serif" font-size="17" fill="#1a1a1a">150</text>
<text x="293.20" y="989.30" text-anchor="middle" font-family="Liberation Serif" font-size="17" fill="#1a1a1a">200</text>
<text x="356.10" y="989.30" text-anchor="middle" font-family="Liberation Serif" font-size="17" fill="#1a1a1a">250</text>
<text x="419.00" y="989.30" text-anchor="middle" font-family="Liberation Serif" font-size="17" fill="#1a1a1a">300</text>
<text x="481.90" y="989.30" text-anchor="middle" font-family="Liberation Serif" font-size="17" fill="#1a1a1a">350</text>
<text x="544.80" y="989.30" text-anchor="middle" font-family="Liberation Serif" font-size="17" fill="#1a1a1a">400</text>
<text x="607.70" y="989.30" text-anchor="middle" font-family="Liberation Serif" font-size="17" fill="#1a1a1a">450</text>
<path transform="translate(40.54,968.40) scale(0.00811,-0.00811)" d="M763 0H583V1147Q518 1085 412.5 1023Q307 961 223 930V1104Q374 1175 487 1276Q600 1377 647 1472H763Z" fill="#1a1a1a"/><text x="49.77" y="968.40" font-family="Liberation Sans" font-size="16.6" fill="#1a1a1a">0</text>
<text x="40.54" y="917.49" font-family="Liberation Sans" font-size="16.6" fill="#1a1a1a">20</text>
<text x="40.54" y="866.58" font-family="Liberation Sans" font-size="16.6" fill="#1a1a1a">30</text>
<text x="40.54" y="815.67" font-family="Liberation Sans" font-size="16.6" fill="#1a1a1a">40</text>
<text x="40.54" y="764.76" font-family="Liberation Sans" font-size="16.6" fill="#1a1a1a">50</text>
<text x="40.54" y="713.85" font-family="Liberation Sans" font-size="16.6" fill="#1a1a1a">60</text>
<text x="40.54" y="662.94" font-family="Liberation Sans" font-size="16.6" fill="#1a1a1a">70</text>
<text x="40.54" y="612.03" font-family="Liberation Sans" font-size="16.6" fill="#1a1a1a">80</text>
<text x="40.54" y="561.12" font-family="Liberation Sans" font-size="16.6" fill="#1a1a1a">90</text>
<rect x="105.26" y="854.71" width="8.55" height="8.55" fill="#4a4a4a"/>
<rect x="194.07" y="754.72" width="8.55" height="8.55" fill="#4a4a4a"/>
<rect x="293.45" y="682.84" width="8.55" height="8.55" fill="#4a4a4a"/>
<rect x="399.50" y="628.52" width="8.55" height="8.55" fill="#4a4a4a"/>
<rect x="512.09" y="592.32" width="8.55" height="8.55" fill="#4a4a4a"/>
<circle cx="114.94" cy="875.58" r="4.75" fill="#e8353a"/>
<circle cx="207.15" cy="782.87" r="4.75" fill="#e8353a"/>
<circle cx="307.29" cy="713.28" r="4.75" fill="#e8353a"/>
<circle cx="413.97" cy="660.28" r="4.75" fill="#e8353a"/>
<circle cx="526.06" cy="622.61" r="4.75" fill="#e8353a"/>
<polygon points="120.60,883.85 125.92,893.16 115.28,893.16" fill="#1a66d9"/>
<polygon points="215.20,798.27 220.52,807.58 209.88,807.58" fill="#1a66d9"/>
<polygon points="315.84,729.59 321.16,738.90 310.52,738.90" fill="#1a66d9"/>
<polygon points="422.90,677.86 428.22,687.17 417.58,687.17" fill="#1a66d9"/>
<polygon points="535.49,640.65 540.81,649.96 530.17,649.96" fill="#1a66d9"/>
<polygon points="121.07,902.87 131.71,902.87 126.39,912.18" fill="#2e9e5a"/>
<polygon points="218.19,824.88 228.83,824.88 223.51,834.19" fill="#2e9e5a"/>
<polygon points="321.22,763.17 331.86,763.17 326.54,772.48" fill="#2e9e5a"/>
<polygon points="429.78,715.32 440.42,715.32 435.10,724.63" fill="#2e9e5a"/>
<polygon points="543.63,682.69 554.27,682.69 548.95,692.00" fill="#2e9e5a"/>
<polygon points="132.55,916.50 137.97,921.91 132.55,927.33 127.14,921.91" fill="#a86ee8"/>
<polygon points="233.07,847.46 238.48,852.88 233.07,858.29 227.65,852.88" fill="#a86ee8"/>
<polygon points="338.36,791.00 343.78,796.42 338.36,801.83 332.95,796.42" fill="#a86ee8"/>
<polygon points="448.31,746.76 453.73,752.18 448.31,757.59 442.90,752.18" fill="#a86ee8"/>
<polygon points="562.16,713.57 567.58,718.98 562.16,724.40 556.75,718.98" fill="#a86ee8"/>
<path d="M109.53,847.21 L114.68,841.20 L119.83,835.40 L124.98,829.79 L130.13,824.36 L135.28,819.09 L140.43,813.97 L145.58,808.99 L150.73,804.13 L155.88,799.38 L161.03,794.75 L166.18,790.22 L171.33,785.78 L176.48,781.43 L181.63,777.17 L186.78,772.99 L191.93,768.88 L197.08,764.85 L202.23,760.88 L207.38,756.98 L212.53,753.15 L217.68,749.37 L222.83,745.64 L227.98,741.98 L233.13,738.36 L238.28,734.79 L243.43,731.27 L248.58,727.80 L253.73,724.37 L258.88,720.99 L264.03,717.64 L269.18,714.34 L274.33,711.07 L279.48,707.84 L284.63,704.65 L289.78,701.49 L294.93,698.36 L300.08,695.27 L305.23,692.21 L310.38,689.18 L315.53,686.18 L320.68,683.20 L325.83,680.26 L330.98,677.34 L336.12,674.45 L341.27,671.59 L346.42,668.75 L351.57,665.94 L356.72,663.15 L361.87,660.38 L367.02,657.64 L372.17,654.92 L377.32,652.22 L382.47,649.54 L387.62,646.88 L392.77,644.25 L397.92,641.63 L403.07,639.03 L408.22,636.45 L413.37,633.89 L418.52,631.35 L423.67,628.83 L428.82,626.32 L433.97,623.83 L439.12,621.36 L444.27,618.90 L449.42,616.46 L454.57,614.04 L459.72,611.63 L464.87,609.24 L470.02,606.86 L475.17,604.50 L480.32,602.15 L485.47,599.81 L490.62,597.49 L495.77,595.18 L500.92,592.89 L506.07,590.61 L511.22,588.34 L516.37,586.09" fill="none" stroke="#4a3ecc" stroke-width="1.5"/>
<path d="M114.94,865.54 L120.15,860.09 L125.35,854.81 L130.55,849.68 L135.76,844.70 L140.96,839.84 L146.17,835.11 L151.37,830.48 L156.57,825.96 L161.78,821.53 L166.98,817.20 L172.19,812.95 L177.39,808.78 L182.59,804.68 L187.80,800.65 L193.00,796.70 L198.21,792.80 L203.41,788.97 L208.61,785.20 L213.82,781.48 L219.02,777.81 L224.22,774.20 L229.43,770.63 L234.63,767.11 L239.84,763.64 L245.04,760.20 L250.24,756.81 L255.45,753.46 L260.65,750.15 L265.86,746.88 L271.06,743.64 L276.26,740.43 L281.47,737.26 L286.67,734.13 L291.88,731.02 L297.08,727.94 L302.28,724.90 L307.49,721.88 L312.69,718.89 L317.90,715.93 L323.10,712.99 L328.30,710.08 L333.51,707.19 L338.71,704.33 L343.92,701.49 L349.12,698.68 L354.32,695.89 L359.53,693.12 L364.73,690.37 L369.94,687.64 L375.14,684.94 L380.34,682.25 L385.55,679.58 L390.75,676.93 L395.96,674.30 L401.16,671.69 L406.36,669.10 L411.57,666.52 L416.77,663.96 L421.98,661.42 L427.18,658.90 L432.38,656.39 L437.59,653.89 L442.79,651.41 L448.00,648.95 L453.20,646.50 L458.40,644.07 L463.61,641.65 L468.81,639.25 L474.02,636.86 L479.22,634.48 L484.42,632.11 L489.63,629.76 L494.83,627.43 L500.04,625.10 L505.24,622.79 L510.44,620.49 L515.65,618.20 L520.85,615.92 L526.06,613.66" fill="none" stroke="#4a3ecc" stroke-width="1.5"/>
<path d="M120.60,880.26 L125.85,875.31 L131.11,870.49 L136.36,865.79 L141.61,861.20 L146.86,856.72 L152.11,852.33 L157.36,848.03 L162.62,843.82 L167.87,839.69 L173.12,835.63 L178.37,831.64 L183.62,827.71 L188.88,823.85 L194.13,820.05 L199.38,816.31 L204.63,812.62 L209.88,808.98 L215.13,805.39 L220.39,801.85 L225.64,798.35 L230.89,794.89 L236.14,791.48 L241.39,788.11 L246.64,784.77 L251.90,781.48 L257.15,778.21 L262.40,774.99 L267.65,771.79 L272.90,768.63 L278.15,765.50 L283.41,762.40 L288.66,759.33 L293.91,756.29 L299.16,753.27 L304.41,750.28 L309.67,747.32 L314.92,744.38 L320.17,741.47 L325.42,738.58 L330.67,735.71 L335.92,732.87 L341.18,730.04 L346.43,727.24 L351.68,724.47 L356.93,721.71 L362.18,718.97 L367.43,716.25 L372.69,713.55 L377.94,710.87 L383.19,708.20 L388.44,705.56 L393.69,702.93 L398.95,700.32 L404.20,697.72 L409.45,695.14 L414.70,692.58 L419.95,690.03 L425.20,687.50 L430.46,684.99 L435.71,682.49 L440.96,680.00 L446.21,677.53 L451.46,675.07 L456.71,672.62 L461.97,670.19 L467.22,667.77 L472.47,665.37 L477.72,662.97 L482.97,660.59 L488.23,658.22 L493.48,655.87 L498.73,653.52 L503.98,651.19 L509.23,648.87 L514.48,646.56 L519.74,644.26 L524.99,641.98 L530.24,639.70 L535.49,637.43" fill="none" stroke="#4a3ecc" stroke-width="1.5"/>
<path d="M126.39,896.78 L131.74,892.47 L137.09,888.27 L142.44,884.16 L147.78,880.13 L153.13,876.19 L158.48,872.33 L163.83,868.54 L169.18,864.82 L174.53,861.16 L179.88,857.56 L185.23,854.01 L190.58,850.53 L195.92,847.09 L201.27,843.70 L206.62,840.36 L211.97,837.06 L217.32,833.80 L222.67,830.58 L228.02,827.41 L233.37,824.27 L238.72,821.16 L244.06,818.09 L249.41,815.06 L254.76,812.05 L260.11,809.08 L265.46,806.13 L270.81,803.22 L276.16,800.33 L281.51,797.47 L286.86,794.63 L292.20,791.82 L297.55,789.04 L302.90,786.28 L308.25,783.54 L313.60,780.82 L318.95,778.13 L324.30,775.46 L329.65,772.81 L335.00,770.18 L340.34,767.56 L345.69,764.97 L351.04,762.40 L356.39,759.84 L361.74,757.30 L367.09,754.78 L372.44,752.28 L377.79,749.79 L383.14,747.32 L388.48,744.86 L393.83,742.42 L399.18,740.00 L404.53,737.59 L409.88,735.20 L415.23,732.81 L420.58,730.45 L425.93,728.09 L431.28,725.75 L436.62,723.43 L441.97,721.11 L447.32,718.81 L452.67,716.52 L458.02,714.25 L463.37,711.98 L468.72,709.73 L474.07,707.49 L479.42,705.26 L484.76,703.04 L490.11,700.83 L495.46,698.64 L500.81,696.45 L506.16,694.27 L511.51,692.11 L516.86,689.95 L522.21,687.81 L527.56,685.67 L532.90,683.55 L538.25,681.43 L543.60,679.32 L548.95,677.22" fill="none" stroke="#4a3ecc" stroke-width="1.5"/>
<path d="M132.55,914.55 L137.99,910.80 L143.43,907.14 L148.87,903.54 L154.31,900.01 L159.74,896.54 L165.18,893.13 L170.62,889.78 L176.06,886.47 L181.50,883.22 L186.93,880.01 L192.37,876.84 L197.81,873.71 L203.25,870.63 L208.69,867.58 L214.12,864.57 L219.56,861.59 L225.00,858.64 L230.44,855.73 L235.88,852.85 L241.31,849.99 L246.75,847.17 L252.19,844.37 L257.63,841.60 L263.07,838.85 L268.50,836.13 L273.94,833.43 L279.38,830.76 L284.82,828.11 L290.26,825.47 L295.70,822.86 L301.13,820.27 L306.57,817.70 L312.01,815.15 L317.45,812.62 L322.89,810.11 L328.32,807.61 L333.76,805.13 L339.20,802.67 L344.64,800.22 L350.08,797.79 L355.51,795.38 L360.95,792.98 L366.39,790.59 L371.83,788.22 L377.27,785.87 L382.70,783.53 L388.14,781.20 L393.58,778.88 L399.02,776.58 L404.46,774.29 L409.89,772.01 L415.33,769.75 L420.77,767.50 L426.21,765.26 L431.65,763.03 L437.08,760.81 L442.52,758.60 L447.96,756.41 L453.40,754.22 L458.84,752.05 L464.28,749.88 L469.71,747.73 L475.15,745.58 L480.59,743.45 L486.03,741.32 L491.47,739.21 L496.90,737.10 L502.34,735.01 L507.78,732.92 L513.22,730.84 L518.66,728.77 L524.09,726.71 L529.53,724.65 L534.97,722.61 L540.41,720.57 L545.85,718.54 L551.28,716.52 L556.72,714.51 L562.16,712.51" fill="none" stroke="#4a3ecc" stroke-width="1.5"/>
<path d="M109.53,865.10 L114.68,856.81 L119.83,848.81 L124.98,841.11 L130.13,833.68 L135.28,826.51 L140.43,819.58 L145.58,812.89 L150.73,806.41 L155.88,800.15 L161.03,794.09 L166.18,788.23 L171.33,782.54 L176.48,777.03 L181.63,771.68 L186.78,766.49 L191.93,761.46 L197.08,756.57 L202.23,751.82 L207.38,747.20 L212.53,742.71 L217.68,738.34 L222.83,734.09 L227.98,729.95 L233.13,725.92 L238.28,721.99 L243.43,718.17 L248.58,714.44 L253.73,710.80 L258.88,707.26 L264.03,703.80 L269.18,700.42 L274.33,697.12 L279.48,693.90 L284.63,690.75 L289.78,687.68 L294.93,684.68 L300.08,681.74 L305.23,678.87 L310.38,676.06 L315.53,673.31 L320.68,670.62 L325.83,667.99 L330.98,665.41 L336.12,662.89 L341.27,660.41 L346.42,657.99 L351.57,655.62 L356.72,653.29 L361.87,651.01 L367.02,648.78 L372.17,646.59 L377.32,644.44 L382.47,642.33 L387.62,640.26 L392.77,638.23 L397.92,636.23 L403.07,634.28 L408.22,632.35 L413.37,630.47 L418.52,628.61 L423.67,626.79 L428.82,625.00 L433.97,623.25 L439.12,621.52 L444.27,619.82 L449.42,618.15 L454.57,616.51 L459.72,614.89 L464.87,613.31 L470.02,611.74 L475.17,610.21 L480.32,608.70 L485.47,607.21 L490.62,605.74 L495.77,604.30 L500.92,602.88 L506.07,601.49 L511.22,600.11 L516.37,598.76" fill="none" stroke="#e03c3c" stroke-width="1.5"/>
<path d="M114.94,881.00 L120.15,873.78 L125.35,866.79 L130.55,860.00 L135.76,853.42 L140.96,847.04 L146.17,840.84 L151.37,834.82 L156.57,828.97 L161.78,823.28 L166.98,817.74 L172.19,812.36 L177.39,807.12 L182.59,802.02 L187.80,797.05 L193.00,792.21 L198.21,787.49 L203.41,782.89 L208.61,778.41 L213.82,774.03 L219.02,769.76 L224.22,765.59 L229.43,761.52 L234.63,757.55 L239.84,753.66 L245.04,749.87 L250.24,746.16 L255.45,742.53 L260.65,738.98 L265.86,735.51 L271.06,732.12 L276.26,728.79 L281.47,725.54 L286.67,722.35 L291.88,719.23 L297.08,716.18 L302.28,713.19 L307.49,710.25 L312.69,707.38 L317.90,704.56 L323.10,701.79 L328.30,699.08 L333.51,696.42 L338.71,693.81 L343.92,691.25 L349.12,688.74 L354.32,686.27 L359.53,683.85 L364.73,681.47 L369.94,679.14 L375.14,676.84 L380.34,674.59 L385.55,672.37 L390.75,670.20 L395.96,668.06 L401.16,665.96 L406.36,663.89 L411.57,661.86 L416.77,659.86 L421.98,657.89 L427.18,655.96 L432.38,654.05 L437.59,652.18 L442.79,650.34 L448.00,648.52 L453.20,646.74 L458.40,644.98 L463.61,643.25 L468.81,641.55 L474.02,639.87 L479.22,638.21 L484.42,636.59 L489.63,634.98 L494.83,633.40 L500.04,631.84 L505.24,630.31 L510.44,628.80 L515.65,627.30 L520.85,625.83 L526.06,624.39" fill="none" stroke="#e03c3c" stroke-width="1.5"/>
<path d="M120.60,893.48 L125.85,887.15 L131.11,880.98 L136.36,874.97 L141.61,869.11 L146.86,863.40 L152.11,857.83 L157.36,852.39 L162.62,847.09 L167.87,841.91 L173.12,836.85 L178.37,831.91 L183.62,827.09 L188.88,822.37 L194.13,817.76 L199.38,813.26 L204.63,808.85 L209.88,804.53 L215.13,800.32 L220.39,796.18 L225.64,792.14 L230.89,788.18 L236.14,784.31 L241.39,780.51 L246.64,776.79 L251.90,773.14 L257.15,769.56 L262.40,766.06 L267.65,762.62 L272.90,759.25 L278.15,755.94 L283.41,752.70 L288.66,749.51 L293.91,746.39 L299.16,743.32 L304.41,740.31 L309.67,737.35 L314.92,734.45 L320.17,731.59 L325.42,728.79 L330.67,726.04 L335.92,723.33 L341.18,720.67 L346.43,718.05 L351.68,715.48 L356.93,712.95 L362.18,710.47 L367.43,708.02 L372.69,705.61 L377.94,703.24 L383.19,700.91 L388.44,698.62 L393.69,696.36 L398.95,694.14 L404.20,691.95 L409.45,689.80 L414.70,687.68 L419.95,685.59 L425.20,683.53 L430.46,681.51 L435.71,679.51 L440.96,677.54 L446.21,675.61 L451.46,673.70 L456.71,671.81 L461.97,669.96 L467.22,668.13 L472.47,666.32 L477.72,664.54 L482.97,662.79 L488.23,661.06 L493.48,659.35 L498.73,657.67 L503.98,656.01 L509.23,654.37 L514.48,652.76 L519.74,651.16 L524.99,649.59 L530.24,648.03 L535.49,646.50" fill="none" stroke="#e03c3c" stroke-width="1.5"/>
<path d="M126.39,907.56 L131.74,902.17 L137.09,896.89 L142.44,891.74 L147.78,886.70 L153.13,881.78 L158.48,876.97 L163.83,872.26 L169.18,867.65 L174.53,863.15 L179.88,858.73 L185.23,854.41 L190.58,850.19 L195.92,846.04 L201.27,841.98 L206.62,838.01 L211.97,834.11 L217.32,830.29 L222.67,826.54 L228.02,822.87 L233.37,819.27 L238.72,815.74 L244.06,812.27 L249.41,808.86 L254.76,805.52 L260.11,802.25 L265.46,799.03 L270.81,795.86 L276.16,792.76 L281.51,789.71 L286.86,786.71 L292.20,783.77 L297.55,780.87 L302.90,778.03 L308.25,775.23 L313.60,772.48 L318.95,769.78 L324.30,767.12 L329.65,764.50 L335.00,761.93 L340.34,759.39 L345.69,756.90 L351.04,754.45 L356.39,752.03 L361.74,749.66 L367.09,747.32 L372.44,745.01 L377.79,742.75 L383.14,740.51 L388.48,738.31 L393.83,736.14 L399.18,734.01 L404.53,731.90 L409.88,729.83 L415.23,727.79 L420.58,725.77 L425.93,723.78 L431.28,721.83 L436.62,719.90 L441.97,717.99 L447.32,716.12 L452.67,714.27 L458.02,712.44 L463.37,710.64 L468.72,708.86 L474.07,707.11 L479.42,705.38 L484.76,703.67 L490.11,701.99 L495.46,700.33 L500.81,698.69 L506.16,697.07 L511.51,695.47 L516.86,693.89 L522.21,692.33 L527.56,690.79 L532.90,689.27 L538.25,687.77 L543.60,686.29 L548.95,684.82" fill="none" stroke="#e03c3c" stroke-width="1.5"/>
<path d="M132.55,923.05 L137.99,918.52 L143.43,914.08 L148.87,909.73 L154.31,905.45 L159.74,901.26 L165.18,897.14 L170.62,893.10 L176.06,889.12 L181.50,885.22 L186.93,881.39 L192.37,877.63 L197.81,873.93 L203.25,870.29 L208.69,866.72 L214.12,863.20 L219.56,859.75 L225.00,856.35 L230.44,853.01 L235.88,849.72 L241.31,846.49 L246.75,843.31 L252.19,840.18 L257.63,837.10 L263.07,834.06 L268.50,831.08 L273.94,828.14 L279.38,825.24 L284.82,822.39 L290.26,819.59 L295.70,816.82 L301.13,814.10 L306.57,811.42 L312.01,808.77 L317.45,806.17 L322.89,803.60 L328.32,801.07 L333.76,798.57 L339.20,796.11 L344.64,793.69 L350.08,791.29 L355.51,788.94 L360.95,786.61 L366.39,784.32 L371.83,782.05 L377.27,779.82 L382.70,777.62 L388.14,775.44 L393.58,773.30 L399.02,771.18 L404.46,769.09 L409.89,767.03 L415.33,765.00 L420.77,762.99 L426.21,761.01 L431.65,759.05 L437.08,757.11 L442.52,755.20 L447.96,753.32 L453.40,751.45 L458.84,749.61 L464.28,747.80 L469.71,746.00 L475.15,744.23 L480.59,742.47 L486.03,740.74 L491.47,739.03 L496.90,737.34 L502.34,735.67 L507.78,734.01 L513.22,732.38 L518.66,730.77 L524.09,729.17 L529.53,727.59 L534.97,726.03 L540.41,724.49 L545.85,722.96 L551.28,721.45 L556.72,719.96 L562.16,718.49" fill="none" stroke="#e03c3c" stroke-width="1.5"/>
<path d="M109.53,864.43 L114.68,854.48 L119.83,845.20 L124.98,836.51 L130.13,828.35 L135.28,820.64 L140.43,813.35 L145.58,806.43 L150.73,799.85 L155.88,793.56 L161.03,787.56 L166.18,781.81 L171.33,776.29 L176.48,770.98 L181.63,765.88 L186.78,760.96 L191.93,756.21 L197.08,751.62 L202.23,747.18 L207.38,742.88 L212.53,738.71 L217.68,734.67 L222.83,730.74 L227.98,726.92 L233.13,723.21 L238.28,719.59 L243.43,716.07 L248.58,712.64 L253.73,709.29 L258.88,706.02 L264.03,702.83 L269.18,699.71 L274.33,696.66 L279.48,693.68 L284.63,690.76 L289.78,687.91 L294.93,685.11 L300.08,682.37 L305.23,679.68 L310.38,677.04 L315.53,674.46 L320.68,671.92 L325.83,669.43 L330.98,666.98 L336.12,664.58 L341.27,662.22 L346.42,659.89 L351.57,657.61 L356.72,655.37 L361.87,653.16 L367.02,650.99 L372.17,648.85 L377.32,646.74 L382.47,644.67 L387.62,642.62 L392.77,640.61 L397.92,638.63 L403.07,636.67 L408.22,634.74 L413.37,632.84 L418.52,630.97 L423.67,629.12 L428.82,627.30 L433.97,625.50 L439.12,623.72 L444.27,621.97 L449.42,620.23 L454.57,618.53 L459.72,616.84 L464.87,615.17 L470.02,613.52 L475.17,611.89 L480.32,610.28 L485.47,608.69 L490.62,607.12 L495.77,605.57 L500.92,604.03 L506.07,602.51 L511.22,601.01 L516.37,599.53" fill="none" stroke="#3ede3e" stroke-width="1.5"/>
<path d="M114.94,882.48 L120.15,873.22 L125.35,864.57 L130.55,856.43 L135.76,848.75 L140.96,841.49 L146.17,834.60 L151.37,828.05 L156.57,821.80 L161.78,815.82 L166.98,810.10 L172.19,804.61 L177.39,799.34 L182.59,794.26 L187.80,789.37 L193.00,784.65 L198.21,780.08 L203.41,775.67 L208.61,771.40 L213.82,767.26 L219.02,763.24 L224.22,759.34 L229.43,755.55 L234.63,751.86 L239.84,748.27 L245.04,744.77 L250.24,741.36 L255.45,738.03 L260.65,734.79 L265.86,731.62 L271.06,728.52 L276.26,725.50 L281.47,722.54 L286.67,719.64 L291.88,716.80 L297.08,714.03 L302.28,711.30 L307.49,708.64 L312.69,706.02 L317.90,703.45 L323.10,700.93 L328.30,698.46 L333.51,696.03 L338.71,693.65 L343.92,691.31 L349.12,689.00 L354.32,686.74 L359.53,684.51 L364.73,682.32 L369.94,680.16 L375.14,678.04 L380.34,675.95 L385.55,673.89 L390.75,671.86 L395.96,669.87 L401.16,667.90 L406.36,665.96 L411.57,664.05 L416.77,662.16 L421.98,660.30 L427.18,658.47 L432.38,656.66 L437.59,654.87 L442.79,653.11 L448.00,651.37 L453.20,649.65 L458.40,647.96 L463.61,646.28 L468.81,644.63 L474.02,643.00 L479.22,641.38 L484.42,639.79 L489.63,638.21 L494.83,636.65 L500.04,635.11 L505.24,633.59 L510.44,632.08 L515.65,630.59 L520.85,629.12 L526.06,627.66" fill="none" stroke="#3ede3e" stroke-width="1.5"/>
<path d="M120.60,897.14 L125.85,888.52 L131.11,880.43 L136.36,872.79 L141.61,865.57 L146.86,858.71 L152.11,852.19 L157.36,845.98 L162.62,840.03 L167.87,834.34 L173.12,828.89 L178.37,823.64 L183.62,818.60 L188.88,813.74 L194.13,809.04 L199.38,804.51 L204.63,800.13 L209.88,795.88 L215.13,791.76 L220.39,787.77 L225.64,783.89 L230.89,780.13 L236.14,776.46 L241.39,772.89 L246.64,769.42 L251.90,766.03 L257.15,762.73 L262.40,759.51 L267.65,756.36 L272.90,753.28 L278.15,750.28 L283.41,747.34 L288.66,744.46 L293.91,741.64 L299.16,738.88 L304.41,736.18 L309.67,733.53 L314.92,730.93 L320.17,728.38 L325.42,725.88 L330.67,723.43 L335.92,721.01 L341.18,718.65 L346.43,716.32 L351.68,714.03 L356.93,711.78 L362.18,709.57 L367.43,707.39 L372.69,705.25 L377.94,703.15 L383.19,701.07 L388.44,699.03 L393.69,697.01 L398.95,695.03 L404.20,693.08 L409.45,691.15 L414.70,689.25 L419.95,687.38 L425.20,685.54 L430.46,683.72 L435.71,681.92 L440.96,680.15 L446.21,678.40 L451.46,676.67 L456.71,674.96 L461.97,673.28 L467.22,671.62 L472.47,669.98 L477.72,668.35 L482.97,666.75 L488.23,665.17 L493.48,663.60 L498.73,662.05 L503.98,660.52 L509.23,659.01 L514.48,657.52 L519.74,656.04 L524.99,654.57 L530.24,653.13 L535.49,651.70" fill="none" stroke="#3ede3e" stroke-width="1.5"/>
<path d="M126.39,912.74 L131.74,905.13 L137.09,897.96 L142.44,891.18 L147.78,884.75 L153.13,878.63 L158.48,872.81 L163.83,867.24 L169.18,861.91 L174.53,856.80 L179.88,851.90 L185.23,847.17 L190.58,842.63 L195.92,838.24 L201.27,834.00 L206.62,829.90 L211.97,825.93 L217.32,822.09 L222.67,818.35 L228.02,814.73 L233.37,811.21 L238.72,807.79 L244.06,804.46 L249.41,801.22 L254.76,798.06 L260.11,794.97 L265.46,791.96 L270.81,789.03 L276.16,786.16 L281.51,783.35 L286.86,780.61 L292.20,777.92 L297.55,775.30 L302.90,772.72 L308.25,770.20 L313.60,767.73 L318.95,765.31 L324.30,762.93 L329.65,760.60 L335.00,758.31 L340.34,756.07 L345.69,753.86 L351.04,751.69 L356.39,749.56 L361.74,747.46 L367.09,745.40 L372.44,743.37 L377.79,741.38 L383.14,739.41 L388.48,737.48 L393.83,735.58 L399.18,733.70 L404.53,731.85 L409.88,730.03 L415.23,728.24 L420.58,726.47 L425.93,724.73 L431.28,723.01 L436.62,721.31 L441.97,719.64 L447.32,717.99 L452.67,716.36 L458.02,714.75 L463.37,713.16 L468.72,711.60 L474.07,710.05 L479.42,708.52 L484.76,707.01 L490.11,705.52 L495.46,704.04 L500.81,702.58 L506.16,701.14 L511.51,699.72 L516.86,698.31 L522.21,696.92 L527.56,695.54 L532.90,694.18 L538.25,692.83 L543.60,691.50 L548.95,690.18" fill="none" stroke="#3ede3e" stroke-width="1.5"/>
<path d="M132.55,929.39 L137.99,922.60 L143.43,916.18 L148.87,910.09 L154.31,904.31 L159.74,898.80 L165.18,893.53 L170.62,888.50 L176.06,883.67 L181.50,879.03 L186.93,874.57 L192.37,870.28 L197.81,866.13 L203.25,862.13 L208.69,858.26 L214.12,854.51 L219.56,850.88 L225.00,847.36 L230.44,843.95 L235.88,840.63 L241.31,837.40 L246.75,834.26 L252.19,831.20 L257.63,828.21 L263.07,825.31 L268.50,822.47 L273.94,819.70 L279.38,816.99 L284.82,814.35 L290.26,811.76 L295.70,809.23 L301.13,806.76 L306.57,804.33 L312.01,801.95 L317.45,799.63 L322.89,797.34 L328.32,795.10 L333.76,792.90 L339.20,790.75 L344.64,788.63 L350.08,786.55 L355.51,784.51 L360.95,782.50 L366.39,780.52 L371.83,778.58 L377.27,776.67 L382.70,774.79 L388.14,772.94 L393.58,771.12 L399.02,769.33 L404.46,767.56 L409.89,765.82 L415.33,764.11 L420.77,762.42 L426.21,760.75 L431.65,759.11 L437.08,757.49 L442.52,755.89 L447.96,754.32 L453.40,752.76 L458.84,751.23 L464.28,749.71 L469.71,748.22 L475.15,746.74 L480.59,745.28 L486.03,743.84 L491.47,742.42 L496.90,741.02 L502.34,739.63 L507.78,738.26 L513.22,736.90 L518.66,735.56 L524.09,734.23 L529.53,732.92 L534.97,731.63 L540.41,730.34 L545.85,729.08 L551.28,727.82 L556.72,726.58 L562.16,725.35" fill="none" stroke="#3ede3e" stroke-width="1.5"/>
<rect x="499.23" y="818.53" width="6.35" height="6.35" fill="#4a4a4a"/>
<text x="527" y="826.63" font-family="Liberation Serif" font-weight="bold" font-size="14.5" fill="#111">298 K</text>
<circle cx="502.40" cy="840.15" r="3.68" fill="#e8353a"/>
<text x="527" y="845.08" font-family="Liberation Serif" font-weight="bold" font-size="14.5" fill="#111">313 K</text>
<polygon points="502.40,853.82 506.77,860.99 498.03,860.99" fill="#1a66d9"/>
<text x="527" y="863.53" font-family="Liberation Serif" font-weight="bold" font-size="14.5" fill="#111">328 K</text>
<polygon points="498.03,874.06 506.77,874.06 502.40,881.23" fill="#2e9e5a"/>
<text x="527" y="881.98" font-family="Liberation Serif" font-weight="bold" font-size="14.5" fill="#111">343 K</text>
<polygon points="502.40,891.13 506.77,895.50 502.40,899.87 498.03,895.50" fill="#a86ee8"/>
<text x="527" y="900.43" font-family="Liberation Serif" font-weight="bold" font-size="14.5" fill="#111">358 K</text>
<line x1="486" y1="913.40" x2="519" y2="913.40" stroke="#e03c3c" stroke-width="1.3"/>
<text x="528" y="918.33" font-family="Liberation Serif" font-weight="bold" font-size="14.5" fill="#111">Langmuir</text>
<line x1="486" y1="931.90" x2="519" y2="931.90" stroke="#4a3ecc" stroke-width="1.3"/>
<text x="528" y="936.83" font-family="Liberation Serif" font-weight="bold" font-size="14.5" fill="#111">Freundlich</text>
<line x1="486" y1="950.40" x2="519" y2="950.40" stroke="#3ede3e" stroke-width="1.3"/>
<text x="528" y="955.33" font-family="Liberation Serif" font-weight="bold" font-size="14.5" fill="#111">Tempkin</text>
<text transform="translate(84.4,578.4) scale(1.06,1)" x="0" y="0" font-family="Liberation Serif" font-weight="bold" font-size="29.4" fill="#111" stroke="#111" stroke-width="0.5">(b)</text>
<text x="300" y="1020.5" font-family="Liberation Serif" font-weight="bold" font-size="20" fill="#111">C<tspan font-size="13" dy="5.2">e</tspan><tspan dy="-5.2"> (mg/g)</tspan></text>
<text transform="translate(19.4,798.3) rotate(-90)" font-family="Liberation Serif" font-weight="bold" font-size="19.2" fill="#111">q<tspan font-size="12.5" dy="5.6">e</tspan><tspan dy="-5.6" letter-spacing="0.45"> (mg/g)</tspan></text>
</svg>
</body></html>
